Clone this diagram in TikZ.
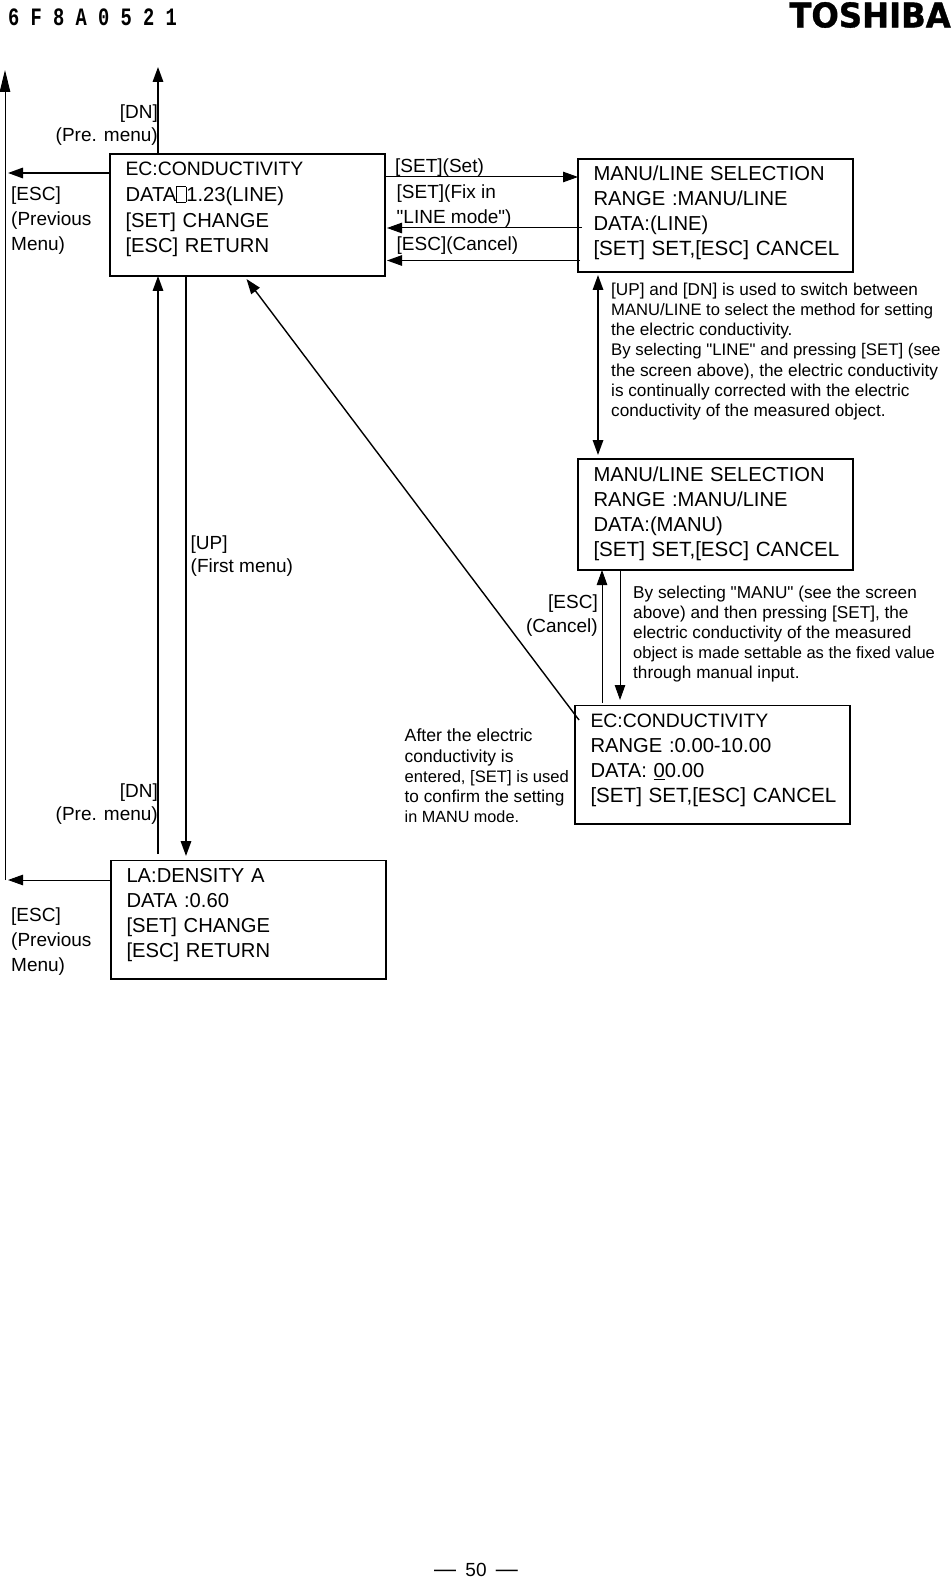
\documentclass[tikz,border=0pt]{standalone}
\usepackage{fontspec}
\setmainfont[Ligatures=TeXOff]{Liberation Sans}
\newfontfamily\headfont[FakeStretch=0.75]{Liberation Mono}
\newfontfamily\logofont[FakeStretch=0.95, BoldFeatures={FakeBold=1}]{DejaVu Sans}
\usetikzlibrary{positioning, calc, arrows.meta}
\newcommand{\missingglyph}{\setlength{\fboxsep}{0pt}\setlength{\fboxrule}{0.5pt}\fbox{\rule{0pt}{15pt}\hspace{9pt}}}
\newcommand{\lineat}[2]{{\fontsize{#1}{20.2}\selectfont\mbox{#2}}}

\begin{document}
\begin{tikzpicture}[x=1pt, y=-1pt,
        screen/.style={draw=black, line width=1.5pt, anchor=north west, outer sep=0pt, inner xsep=15.5pt, inner ysep=3pt, text width=244pt, text height=19pt, text depth=#1, align=left, font=\fontsize{20.2}{25}\selectfont},
        keylabel/.style={inner sep=0pt, font=\fontsize{19}{25}\selectfont},
        note/.style={inner sep=0pt, anchor=west, align=left, font=\fontsize{17.2}{20.2}\selectfont},
        pagedash/.style={inner sep=0pt, font=\fontsize{22}{24}\selectfont},
        heavy/.style={-{Triangle[length=15pt, width=10.5pt]}, line width=1.7pt},
        light/.style={-{Triangle[length=15pt, width=10.5pt]}, line width=1pt},
        slant/.style={-{Triangle[length=15pt, width=10.5pt]}, line width=1.4pt}
    ]
        \useasboundingbox (0,0) rectangle (952,1578);

        \node[anchor=west, inner sep=0pt, font=\headfont\bfseries\fontsize{25}{25}\selectfont] (docno) at (8,17) {6 F 8 A 0 5 2 1};
        \node[anchor=east, inner sep=0pt, font=\logofont\bfseries\fontsize{34}{34}\selectfont] (logo) at (951,15) {TOSHIBA};
        \node[inner sep=0pt, font=\fontsize{19}{24}\selectfont] (pageno) at (476,1570) {50};
        \node[pagedash, base left=9pt of pageno] (dashleft) {—};
        \node[pagedash, base right=9pt of pageno] (dashright) {—};

        \node[screen=97pt] (ecline) at (110,154) {\lineat{19.4}{EC:CONDUCTIVITY}\\[1pt]DATA\missingglyph 1.23(LINE)\\[1pt][SET] CHANGE\\[0pt][ESC] RETURN};
        \node[screen=88pt] (selline) at (578,159) {MANU/LINE SELECTION\\RANGE :MANU/LINE\\DATA:(LINE)\\[0pt]\lineat{20.6}{[SET] SET,[ESC] CANCEL}};
        \node[screen=86pt] (selmanu) at (578,459) {MANU/LINE SELECTION\\RANGE :MANU/LINE\\DATA:(MANU)\\[0pt]\lineat{20.6}{[SET] SET,[ESC] CANCEL}};
        \node[screen=93.5pt] (ecmanu) at (575,705.5) {\lineat{19.4}{EC:CONDUCTIVITY}\\RANGE :0.00-10.00\\DATA: \underline{0}0.00\\[0pt]\lineat{20.6}{[SET] SET,[ESC] CANCEL}};
        \node[screen=93.5pt] (ladens) at (111,860.5) {LA:DENSITY A\\DATA :0.60\\[0pt][SET] CHANGE\\[0pt][ESC] RETURN};

        % free ends of the connectors
        \coordinate (farleft) at (5,880);
        \coordinate (farleftup) at (5,70);
        \coordinate (escstop) at (8,173);
        \coordinate (esclow) at (8,880);
        \coordinate (dntop) at (158,67);
        \coordinate (dnlow) at (158,854);
        \coordinate (upline) at (186,856);
        \coordinate (setset) at (480,177);
        \coordinate (fixstart) at (582,228);
        \coordinate (cancelstart) at (580,260.5);
        \coordinate (switchup) at (598,275);
        \coordinate (switchdown) at (598,455);
        \coordinate (escup) at (602,703);
        \coordinate (setdown) at (620,700);
        \coordinate (confirmstart) at (579,720);
        \coordinate (confirmend) at (246.5,279);

        \draw[heavy] (ecline.north -| dntop) -- (dntop);
        \draw[heavy] (ecline.west |- escstop) -- (escstop);
        \draw[heavy] (dnlow) -- (dnlow |- ecline.south);
        \draw[heavy] (ecline.south -| upline) -- (upline);
        \draw[light] (ladens.west |- esclow) -- (esclow);
        \draw[light, -{Triangle[length=22pt, width=10.5pt]}] (farleft) -- (farleftup);

        \draw[light] (ecline.east |- setset) -- (selline.west |- setset);
        \draw[light, shorten >=2pt] (fixstart) -- (ecline.east |- fixstart);
        \draw[light, shorten >=2pt] (cancelstart) -- (ecline.east |- cancelstart);

        \draw[heavy, {Triangle[length=15pt, width=10.5pt]}-{Triangle[length=15pt, width=10.5pt]}] (switchup) -- (switchdown);
        \draw[light] (escup) -- (escup |- selmanu.south);
        \draw[light] (selmanu.south -| setdown) -- (setdown);
        \draw[slant] (confirmstart) -- (confirmend);

        \node[keylabel, anchor=east, align=right] (dnupper) at (158,125.5) {[DN]\\[-2pt](Pre. menu)};
        \node[keylabel, anchor=east, align=right] (dnlower) at (158,804.5) {[DN]\\[-2pt](Pre. menu)};
        \node[keylabel, anchor=west, align=left] (escupper) at (11,220.5) {[ESC]\\(Previous\\Menu)};
        \node[keylabel, anchor=west, align=left] (esclower) at (11,942) {[ESC]\\(Previous\\Menu)};
        \node[keylabel, anchor=west, align=left] (uplabel) at (190.5,556) {[UP]\\[-2pt](First menu)};
        \node[keylabel, anchor=west] (setlabel) at (395,168) {[SET](Set)};
        \node[keylabel, anchor=west, align=left] (fixlabel) at (396.5,206) {[SET](Fix in\\"LINE mode")};
        \node[keylabel, anchor=west] (cancellabel) at (396.5,245.5) {[ESC](Cancel)};
        \node[keylabel, anchor=east, align=right] (esccancel) at (598,616) {[ESC]\\[-1pt](Cancel)};

        \node[note] (switchnote) at (611,351.5) {[UP] and [DN] is used to switch between\\\lineat{16.6}{MANU/LINE to select the method for setting}\\the electric conductivity.\\\lineat{16.8}{By selecting "LINE" and pressing [SET] (see}\\\lineat{17.3}{the screen above), the electric conductivity}\\is continually corrected with the electric\\conductivity of the measured object.};
        \node[note] (manunote) at (633,634) {By selecting "MANU" (see the screen\\above) and then pressing [SET], the\\electric conductivity of the measured\\\lineat{16.5}{object is made settable as the fixed value}\\through manual input.};
        \node[note] (confirmnote) at (404.5,776) {\lineat{17.7}{After the electric}\\\lineat{17.5}{conductivity is}\\\lineat{16.6}{entered, [SET] is used}\\to confirm the setting\\\lineat{16.2}{in MANU mode.}};
    \end{tikzpicture}
\end{document}
